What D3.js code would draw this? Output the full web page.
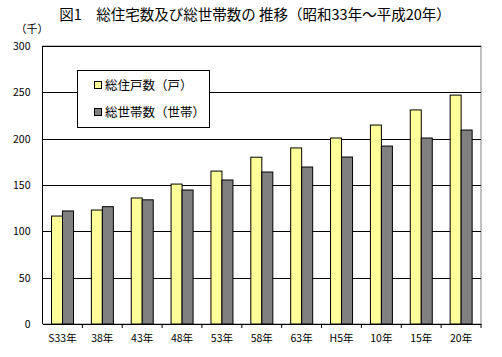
<!DOCTYPE html>
<html><head><meta charset="utf-8">
<script src="https://cdn.jsdelivr.net/npm/d3@7"></script>
<style>body{margin:0;background:#fff}svg{display:block}text{font-family:"Noto Sans CJK JP",sans-serif}</style>
</head><body><svg id="c" width="502" height="357"></svg>
<script>
const categories = ["S33年","38年","43年","48年","53年","58年","63年","H5年","10年","15年","20年"];
const houses = [116.5, 123, 136, 151, 165, 180, 190, 200.7, 214.7, 231, 247];
const households = [122, 126.6, 134, 144.6, 155.4, 164, 169.4, 180.2, 192, 200.7, 209.3];
const seriesNames = ["総住戸数（戸）","総世帯数（世帯）"];
const seriesColors = ["#FFFF99","#808080"];
const yTicks = [0,50,100,150,200,250,300];
const title = "図1　総住宅数及び総世帯数の 推移（昭和33年～平成20年）";
const unit = "（千）";

const svg = d3.select("#c");
const L=42.5, R=481, T=46, B=324;
const x = d3.scaleBand().domain(categories).range([L,R]).paddingInner(0).paddingOuter(0);
const x1 = d3.scaleBand().domain([0,1]).range([0,22]);
const y = d3.scaleLinear().domain([0,300]).range([B,T]);

svg.append("text").attr("x",255).attr("y",20).attr("text-anchor","middle").attr("font-size",14.5).text(title);
svg.append("text").attr("x",32).attr("y",33).attr("text-anchor","middle").attr("font-size",11).text(unit);

// border
svg.append("rect").attr("x",L).attr("y",T).attr("width",R-L).attr("height",B-T).attr("fill","#fff").attr("stroke","#808080");
// grid
svg.append("g").selectAll("line").data(yTicks.filter(d=>d>0)).join("line")
  .attr("x1",L).attr("x2",R).attr("y1",d=>Math.round(y(d))+0.5).attr("y2",d=>Math.round(y(d))+0.5).attr("stroke","#000");
// y labels
const yAxis = svg.append("g").attr("transform",`translate(${L},0)`).call(d3.axisLeft(y).tickValues(yTicks).tickSize(0).tickPadding(12));
yAxis.select(".domain").remove();
yAxis.selectAll("text").attr("font-size",10.5).attr("font-family","'Noto Sans CJK JP',sans-serif");

// bars
const groups = svg.append("g").selectAll("g").data(categories).join("g")
  .attr("transform",d=>`translate(${x(d)+9},0)`);
groups.append("rect").attr("x",x1(0)).attr("width",x1.bandwidth()).attr("y",(d,i)=>y(houses[i])).attr("height",(d,i)=>B-y(houses[i]))
  .attr("fill",seriesColors[0]).attr("stroke","#000");
groups.append("rect").attr("x",x1(1)).attr("width",x1.bandwidth()).attr("y",(d,i)=>y(households[i])).attr("height",(d,i)=>B-y(households[i]))
  .attr("fill",seriesColors[1]).attr("stroke","#000");

// axes lines
svg.append("line").attr("x1",L).attr("x2",L).attr("y1",T).attr("y2",B).attr("stroke","#000");
const xAxis = svg.append("g").attr("transform",`translate(0,${B})`)
  .call(d3.axisBottom(x).tickSize(0).tickPadding(11));
xAxis.select(".domain").attr("stroke","#000");
xAxis.selectAll("text").attr("font-size",10.5).attr("font-family","'Noto Sans CJK JP',sans-serif");
svg.append("g").selectAll("line").data(categories).join("line")
  .attr("x1",d=>x(d)+x.bandwidth()).attr("x2",d=>x(d)+x.bandwidth())
  .attr("y1",B).attr("y2",B+4).attr("stroke","#000");

// legend
const lg = svg.append("g");
lg.append("rect").attr("x",77.5).attr("y",70.5).attr("width",132).attr("height",57).attr("fill","#fff").attr("stroke","#000");
seriesNames.forEach((n,i)=>{
  const cy = 85 + i*27;
  lg.append("rect").attr("x",94.5).attr("y",cy-3.5).attr("width",7).attr("height",7).attr("fill",seriesColors[i]).attr("stroke","#000");
  lg.append("text").attr("x",105).attr("y",cy+4.5).attr("font-size",12.5).text(n);
});
</script></body></html>
